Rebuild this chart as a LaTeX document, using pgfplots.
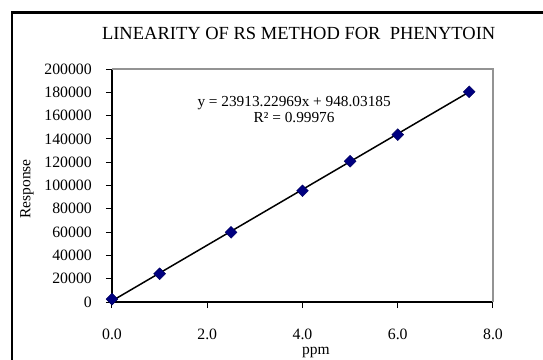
\documentclass[border=0pt]{standalone}
\usepackage{pgfplots}
\pgfplotsset{compat=1.18}
\usepackage{fontspec}
\setmainfont{Liberation Serif}
\definecolor{navymark}{RGB}{0,0,128}
\begin{document}
\fontsize{15bp}{18bp}\selectfont
\begin{tikzpicture}
\useasboundingbox (-112bp,-58bp) rectangle (431bp,302bp);
\begin{axis}[
  at={(0,0)}, anchor=origin,
  scale only axis, width=381bp, height=233bp,
  xmin=0, xmax=8, ymin=0, ymax=200000,
  clip=false,
  scaled y ticks=false, scaled x ticks=false,
  axis x line*=bottom, axis y line*=left,
  axis line style={black, line width=1.3bp},
  tick align=outside,
  major tick length=6bp,
  every tick/.style={black, line width=1bp},
  xtick={0,2,4,6,8},
  xticklabels={0.0,2.0,4.0,6.0,8.0},
  ytick={0,20000,40000,60000,80000,100000,120000,140000,160000,180000,200000},
  yticklabels={0,20000,40000,60000,80000,100000,120000,140000,160000,180000,200000},
  ticklabel style={font=\fontsize{15.8bp}{18bp}\selectfont},
  x tick label style={anchor=north, yshift=-19.5bp, inner sep=1bp},
  y tick label style={anchor=east, xshift=-9bp},
  title={LINEARITY OF RS METHOD FOR\ \ PHENYTOIN},
  title style={at={(axis description cs:0.490,1.128)}, anchor=center, font=\fontsize{18.5bp}{21bp}\selectfont},
  xlabel={ppm},
  xlabel style={at={(axis description cs:0.535,-0.215)}, anchor=center, inner sep=0.5bp, font=\fontsize{15.5bp}{18bp}\selectfont},
  ylabel={Response},
  ylabel style={at={(axis description cs:-0.223,0.485)}, anchor=center, font=\fontsize{15.5bp}{18bp}\selectfont},
]
\draw[gray!85, line width=1.5bp] (rel axis cs:0,1) -- (rel axis cs:1,1) -- (rel axis cs:1,0);
\addplot[black, line width=1.5bp, no marks] coordinates {(0,948.03) (7.5,180297.26)};
\addplot[only marks, mark=square*, mark size=4.2bp,
  mark options={rotate=45, fill=navymark, draw=navymark!70!black, line width=0.4bp}]
  coordinates {(0,2500) (1,24200) (2.5,59800) (4,95500) (5,120800) (6,143600) (7.5,180400)};
\node[anchor=center, font=\fontsize{15.3bp}{18bp}\selectfont] at (axis description cs:0.478,0.855) {y = 23913.22969x + 948.03185};
\node[anchor=center, font=\fontsize{15.3bp}{18bp}\selectfont] at (axis description cs:0.478,0.790) {R² = 0.99976};
\end{axis}
\draw[black, line width=2.8bp] (-100bp,-80bp) -- (-100bp,289.5bp) -- (450bp,289.5bp);
\end{tikzpicture}
\end{document}
